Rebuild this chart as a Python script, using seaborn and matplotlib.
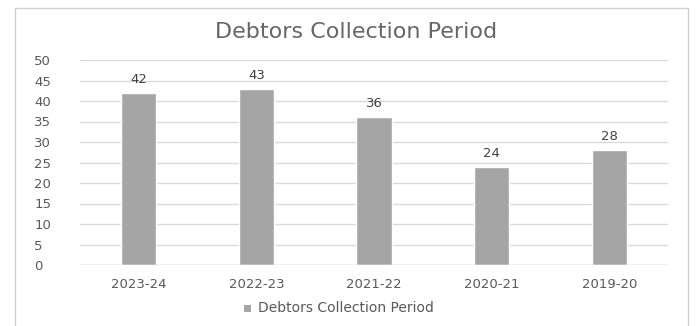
import matplotlib
matplotlib.use("Agg")
import matplotlib.pyplot as plt
import seaborn as sns
import pandas as pd
from matplotlib.patches import Rectangle

categories = ["2023-24", "2022-23", "2021-22", "2020-21", "2019-20"]
values = [42, 43, 36, 24, 28]
series_name = "Debtors Collection Period"

df = pd.DataFrame({"Year": categories, "Value": values, "Series": series_name})

sns.set_style("white")
plt.rcParams['font.family'] = ['DejaVu Sans']

fig = plt.figure(figsize=(6.99, 3.26), dpi=100)
ax = fig.add_axes([80/699, 1-265/326, 588/699, 205/326])

sns.barplot(data=df, x="Year", y="Value", hue="Series", palette=["#A5A5A5"],
            width=0.3, ax=ax, legend=False, saturation=1)

ax.set_ylim(0, 50)
ax.set_yticks(range(0, 51, 5))
ax.yaxis.grid(True, color="#D9D9D9", linewidth=1)
ax.set_axisbelow(True)
for s in ax.spines.values():
    s.set_visible(False)
ax.axhline(0, color="#D9D9D9", linewidth=1)
ax.set_xlabel("")
ax.set_ylabel("")
ax.tick_params(axis="both", length=0, labelsize=9.5, colors="#595959")
ax.tick_params(axis="x", pad=9)
for lab in ax.get_yticklabels():
    lab.set_horizontalalignment("left")
ax.yaxis.set_tick_params(pad=33)

for c in ax.containers:
    ax.bar_label(c, labels=[str(v) for v in values], padding=5, fontsize=9.5, color="#404040")

fig.text(356/699, 1-32/326, "Debtors Collection Period", ha="center", va="center",
         fontsize=16, color="#666666")

# legend
fig.patches.append(Rectangle((244/699, 1-312/326), 7/699, 7/326, transform=fig.transFigure,
                             facecolor="#A5A5A5", edgecolor="none"))
fig.text(258/699, 1-308/326, series_name, ha="left", va="center", fontsize=10, color="#595959")

# chart border
fig.patches.append(Rectangle((15/699, -0.05), 673/699, 1-8/326+0.05, transform=fig.transFigure,
                             facecolor="none", edgecolor="#D0D0D0", linewidth=1))

fig.savefig("out.png", dpi=100)
